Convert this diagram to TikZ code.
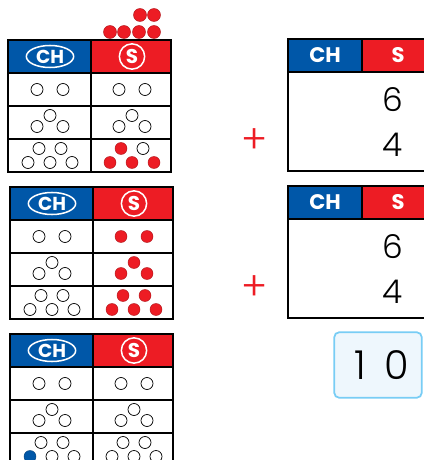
\documentclass[tikz,border=0pt]{standalone}
\usepackage{fontspec}
\setmainfont{Poppins}
\newfontfamily\thinfont{Poppins}[UprightFont=* Light]
\usetikzlibrary{shapes.geometric}
\definecolor{pvblue}{RGB}{0,87,168}
\definecolor{pvred}{RGB}{237,28,36}
\definecolor{pvsky}{RGB}{120,205,245}
\definecolor{pvpale}{RGB}{238,247,253}
\tikzset{
  pvline/.style   = {line width=1pt, black},
  chlab/.style    = {ellipse, draw=white, line width=1.3pt, text=white, inner sep=0pt,
                     minimum width=1.42cm, minimum height=0.66cm,
                     font=\bfseries\fontsize{16}{16}\selectfont},
  slab/.style     = {circle, draw=white, line width=1.3pt, text=white, inner sep=0pt,
                     minimum size=0.76cm, font=\bfseries\fontsize{17}{17}\selectfont},
  colhead/.style  = {text=white, font=\bfseries\fontsize{18}{18}\selectfont},
  digit/.style    = {font=\thinfont\fontsize{28}{28}\selectfont},
  plusmark/.style = {text=pvred, font=\thinfont\fontsize{34}{34}\selectfont},
  sumbox/.style   = {draw=pvsky, fill=pvpale, line width=1.5pt, rounded corners=4pt,
                     minimum width=2.62cm, minimum height=1.96cm,
                     font=\thinfont\fontsize{34}{34}\selectfont},
  dotw/.style     = {draw=black, fill=white, line width=0.6pt},
  dotr/.style     = {draw=pvred!75!black, fill=pvred, line width=0.4pt},
  dotb/.style     = {draw=pvblue!75!black, fill=pvblue, line width=0.4pt},
}
% empty place value table, origin top left
\newcommand{\pvtable}[1]{%
  \fill[pvblue] (0,0) rectangle (83,33);
  \fill[pvred] (83,0) rectangle (163,33);
  \draw[pvline] (0,0) rectangle (163,132);
  \draw[pvline] (83,0) -- (83,132);
  \foreach \r in {33,66,99} \draw[pvline] (0,\r) -- (163,\r);
  \node[chlab] (#1ch) at (42,16.5) {CH};
  \node[slab] (#1s) at (124,16.5) {S};
}
% counters in one cell: centre x, centre y, list dx/dy/style
\newcommand{\dotcell}[3]{%
  \foreach \dx/\dy/\st in {#3} \draw[\st] (#1+\dx,#2+\dy) circle (6);
}
\newcommand{\sumtable}[1]{%
  \fill[pvblue] (0,0) rectangle (74,33);
  \fill[pvred] (74,0) rectangle (150,33);
  \draw[pvline] (0,0) rectangle (150,132);
  \draw[pvline] (74,0) -- (74,33) (0,33) -- (150,33);
  \node[colhead] (#1ch) at (37,16.5) {CH};
  \node[colhead] (#1s) at (110,16.5) {S};
  \node[digit] (#1six) at (105,61) {6};
  \node[digit] (#1four) at (105,106) {4};
  \node[plusmark] (#1plus) at (-33,102) {+};
}

\begin{document}
\begin{tikzpicture}[x=0.03cm, y=-0.03cm]
\useasboundingbox (0,0) rectangle (423,460);

% counters above the first table
\foreach \x/\y in {140/15,154/15,110/32,124/32,139/32,154/32}
  \draw[dotr] (\x,\y) circle (6.5);

\begin{scope}[shift={(8,40)}]
\pvtable{ta}
\dotcell{42}{49.5}{-13/0/dotw,13/0/dotw}
\dotcell{124}{49.5}{-13/0/dotw,13/0/dotw}
\dotcell{42}{82.5}{0/-7/dotw,-13/4/dotw,13/4/dotw}
\dotcell{124}{82.5}{0/-7/dotw,-13/4/dotw,13/4/dotw}
\dotcell{42}{115.5}{-11/-7/dotw,11/-7/dotw,-22/7/dotw,0/7/dotw,22/7/dotw}
\dotcell{124}{115.5}{-11/-7/dotr,11/-7/dotw,-22/7/dotr,0/7/dotr,22/7/dotr}
\end{scope}

\begin{scope}[shift={(10,187)}]
\pvtable{tb}
\dotcell{42}{49.5}{-13/0/dotw,13/0/dotw}
\dotcell{124}{49.5}{-13/0/dotr,13/0/dotr}
\dotcell{42}{82.5}{0/-7/dotw,-13/4/dotw,13/4/dotw}
\dotcell{124}{82.5}{0/-7/dotr,-13/4/dotr,13/4/dotr}
\dotcell{42}{115.5}{-11/-7/dotw,11/-7/dotw,-22/7/dotw,0/7/dotw,22/7/dotw}
\dotcell{124}{115.5}{-11/-7/dotr,11/-7/dotr,-22/7/dotr,0/7/dotr,22/7/dotr}
\end{scope}

\begin{scope}[shift={(10,334)}]
\pvtable{tc}
\dotcell{42}{49.5}{-13/0/dotw,13/0/dotw}
\dotcell{124}{49.5}{-13/0/dotw,13/0/dotw}
\dotcell{42}{82.5}{0/-7/dotw,-13/4/dotw,13/4/dotw}
\dotcell{124}{82.5}{0/-7/dotw,-13/4/dotw,13/4/dotw}
\dotcell{42}{115.5}{-11/-7/dotw,11/-7/dotw,-22/7/dotb,0/7/dotw,22/7/dotw}
\dotcell{124}{115.5}{-11/-7/dotw,11/-7/dotw,-22/7/dotw,0/7/dotw,22/7/dotw}
\end{scope}

\begin{scope}[shift={(288,39)}]
\sumtable{sa}
\end{scope}

\begin{scope}[shift={(288,186)}]
\sumtable{sb}
\end{scope}

\node[sumbox] (total) at (378,365) {\hspace{6pt}1\hspace{16pt}0};
\end{tikzpicture}
\end{document}
